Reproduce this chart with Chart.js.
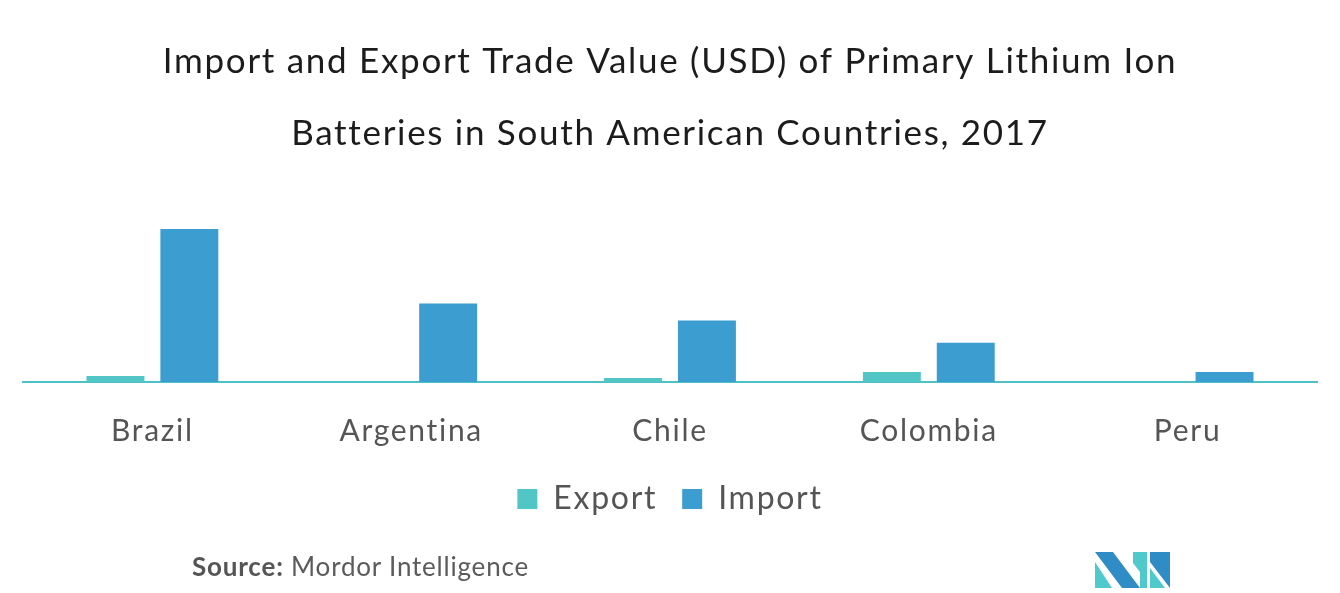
<!DOCTYPE html>
<html>
<head>
<meta charset="utf-8">
<script src="https://cdn.jsdelivr.net/npm/chart.js@4"></script>
<style>
  html, body { margin: 0; padding: 0; background: #fff; }
  #wrap { position: relative; width: 1340px; height: 593px; }
  #source {
    position: absolute; left: 192px; top: 550px;
    font-family: Lato, sans-serif; font-size: 26px; color: #5b5b5b;
    letter-spacing: 0.8px;
  }
  #source b { color: #555; }
  #logo { position: absolute; left: 1095px; top: 552px; }
</style>
</head>
<body>
<div id="wrap">
  <canvas id="chart" width="1340" height="593"></canvas>
  <div id="source"><b>Source:</b> Mordor Intelligence</div>
  <svg id="logo" width="76" height="37" viewBox="0 0 76 37">
    <polygon points="0,10 0,36 17,36" fill="#4fc9cc"/>
    <polygon points="0,0 18,0 45,36 27,36" fill="#2f8cc4"/>
    <polygon points="38,0 45,0 45,20 38,11" fill="#4fc9cc"/>
    <polygon points="45,0 52,0 52,36 45,36" fill="#4fc9cc"/>
    <polygon points="55,0 75,0 75,36 55,10" fill="#2f8cc4"/>
    <polygon points="55,16 55,36 70,36" fill="#4fc9cc"/>
  </svg>
</div>
<script>
const categories = ['Brazil', 'Argentina', 'Chile', 'Colombia', 'Peru'];
const exportValues = [0.6, 0, 0.4, 1.0, 0];
const importValues = [15.2, 7.8, 6.1, 3.9, 1.0];
const titleLines = [
  'Import and Export Trade Value (USD) of Primary Lithium Ion',
  'Batteries in South American Countries, 2017'
];

// the original font is wider than Lato, so space the letters out a bit
const spacing = {
  id: 'spacing',
  beforeLayout(chart) { chart.ctx.letterSpacing = '1.7px'; },
  beforeDraw(chart) { chart.ctx.letterSpacing = '1.7px'; }
};

const ctx = document.getElementById('chart');

new Chart(ctx, {
  type: 'bar',
  data: {
    labels: categories,
    datasets: [
      {
        label: 'Export',
        data: exportValues,
        backgroundColor: '#52c5c7',
        barPercentage: 0.784,
        categoryPercentage: 0.571
      },
      {
        label: 'Import',
        data: importValues,
        backgroundColor: '#3c9dd0',
        barPercentage: 0.784,
        categoryPercentage: 0.571
      }
    ]
  },
  options: {
    responsive: false,
    animation: false,
    layout: {
      padding: { left: 23, right: 23, bottom: 68 }
    },
    plugins: {
      title: {
        display: true,
        text: titleLines,
        color: '#1c1c1c',
        font: { family: 'Lato', size: 35, weight: 'normal', lineHeight: 2.08 },
        padding: { top: 25, bottom: 10 }
      },
      legend: {
        position: 'bottom',
        labels: {
          color: '#555',
          font: { family: 'Lato', size: 32 },
          boxWidth: 20,
          boxHeight: 20,
          padding: 25
        }
      },
      tooltip: { enabled: false }
    },
    scales: {
      x: {
        grid: { display: false, drawTicks: true, tickLength: 22 },
        border: { display: true, color: '#4fc1c4', width: 2 },
        ticks: {
          color: '#555',
          font: { family: 'Lato', size: 30 },
          padding: 9
        }
      },
      y: {
        display: false,
        min: 0,
        max: 20
      }
    }
  },
  plugins: [spacing]
});
</script>
</body>
</html>
